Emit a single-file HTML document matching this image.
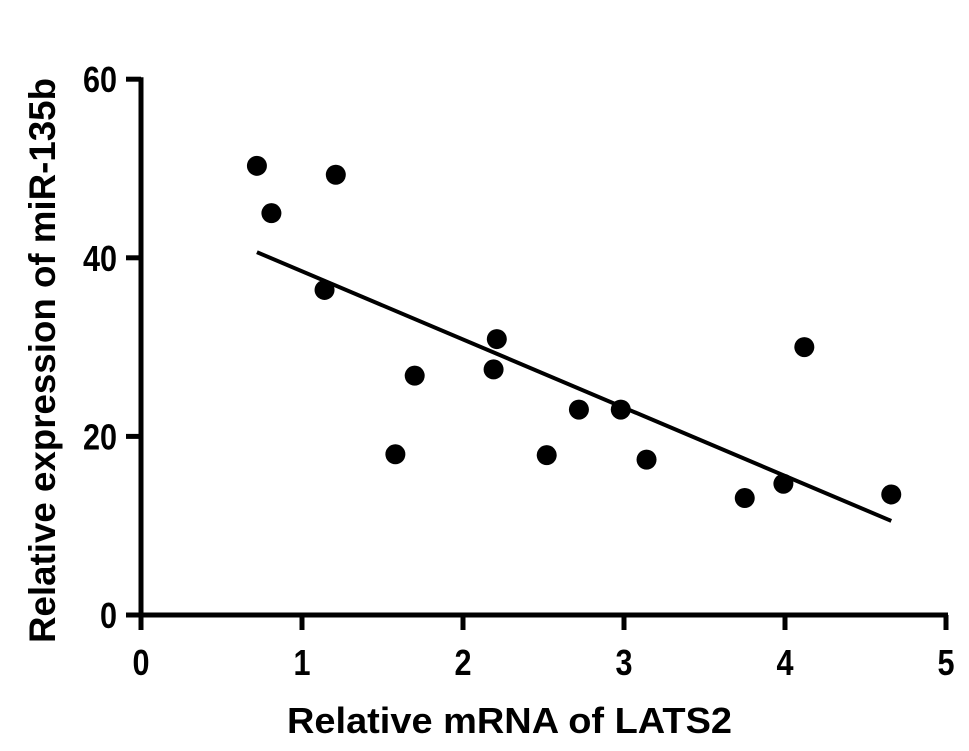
<!DOCTYPE html>
<html><head><meta charset="utf-8"><style>
html,body{margin:0;padding:0;background:#fff;}
svg text{font-family:"Liberation Sans",Arial,sans-serif;font-weight:bold;fill:#000;}
</style></head><body>
<svg id="chart" width="969" height="746" xmlns="http://www.w3.org/2000/svg">
<g id="axes"></g>
<g id="marks"></g>
<text x="287" y="733" font-size="36" textLength="445" lengthAdjust="spacingAndGlyphs">Relative mRNA of LATS2</text>
<text transform="translate(55,643) rotate(-90)" font-size="37" textLength="565" lengthAdjust="spacingAndGlyphs">Relative expression of miR-135b</text>
</svg>
<script>
const xValues = [0.72,0.81,1.21,1.14,1.58,1.70,2.19,2.21,2.52,2.72,2.98,3.14,3.75,3.99,4.12,4.66];
const yValues = [50.3,45.0,49.3,36.4,18.0,26.8,27.5,30.9,17.9,23.0,23.0,17.4,13.1,14.7,30.0,13.5];
const xTicks = [0,1,2,3,4,5];
const yTicks = [0,20,40,60];
const NS="http://www.w3.org/2000/svg";
function X(v){return 141+v*161;}
function Y(v){return 615-v*8.93;}
function mk(tag,attrs,parent){const e=document.createElementNS(NS,tag);for(const k in attrs)e.setAttribute(k,attrs[k]);parent.appendChild(e);return e;}
const axes=document.getElementById('axes'), marks=document.getElementById('marks');
let e=mk('line',{x1:X(0)-14,y1:Y(0),x2:X(5)+2,y2:Y(0),stroke:'#000','stroke-width':5},axes);


e=mk('line',{x1:X(0),y1:Y(60)-2,x2:X(0),y2:Y(0)+15,stroke:'#000','stroke-width':5},axes);


xTicks.forEach(t=>{
  const l=mk('line',{x1:X(t),y1:Y(0),x2:X(t),y2:Y(0)+15,stroke:'#000','stroke-width':5},axes);
  
  
  const tx=mk('text',{x:X(t),y:675,'font-size':36,'text-anchor':'middle',transform:'translate('+X(t)+',0) scale(0.85,1) translate('+(-X(t))+',0)'},axes);
  tx.textContent=t;
  
  
});
yTicks.forEach(t=>{
  const l=mk('line',{x1:X(0)-15,y1:Y(t),x2:X(0),y2:Y(t),stroke:'#000','stroke-width':5},axes);
  
  
  const ax=X(0)-24;
  const tx=mk('text',{x:ax,y:Y(t)+13,'font-size':36,'text-anchor':'end',transform:'translate('+ax+',0) scale(0.85,1) translate('+(-ax)+',0)'},axes);
  tx.textContent=t;
  
  
});
const n=xValues.length;
const mx=xValues.reduce((a,b)=>a+b,0)/n, my=yValues.reduce((a,b)=>a+b,0)/n;
let sxy=0,sxx=0;for(let i=0;i<n;i++){sxy+=(xValues[i]-mx)*(yValues[i]-my);sxx+=(xValues[i]-mx)**2;}
const slope=sxy/sxx, icpt=my-slope*mx;
const x0=Math.min(...xValues), x1=Math.max(...xValues);
e=mk('line',{x1:X(x0),y1:Y(icpt+slope*x0),x2:X(x1),y2:Y(icpt+slope*x1),stroke:'#000','stroke-width':4},marks);


for(let i=0;i<n;i++){
  const c=mk('circle',{cx:X(xValues[i]),cy:Y(yValues[i]),r:10,fill:'#000'},marks);
  
  
}
</script>
</body></html>
